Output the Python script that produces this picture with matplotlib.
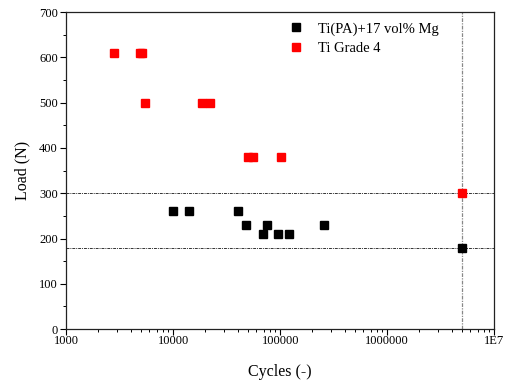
import matplotlib
matplotlib.use("Agg")
import matplotlib.pyplot as plt
from matplotlib.ticker import FixedLocator, FixedFormatter, LogLocator, NullFormatter

plt.rcParams['font.family'] = ['Liberation Serif', 'DejaVu Serif']

# Ti(PA)+17 vol% Mg
mg_cycles = [10000, 14200, 40000, 48000, 75000, 68500, 95000, 121000, 257000, 5000000]
mg_load = [260, 260, 260, 230, 230, 210, 210, 210, 230, 180]

# Ti Grade 4
ti_cycles = [2780, 4850, 5150, 5500, 18400, 22000, 50500, 56000, 101000, 5000000]
ti_load = [610, 610, 610, 500, 500, 500, 380, 380, 380, 300]

limit_loads = [300, 180]
runout = 5000000

xticks = [1000, 10000, 100000, 1000000, 10000000]
xticklabels = ['1000', '10000', '100000', '1000000', '1E7']

fig = plt.figure(figsize=(5.09, 3.80), dpi=100)
ax = fig.add_axes([0.130, 0.134, 0.841, 0.834])

ls = (0, (3, 1, 1, 1))
for y in limit_loads:
    ax.axhline(y, color='#333333', lw=0.7, linestyle=ls, zorder=1)
ax.axvline(runout, color='#888888', lw=0.9, linestyle=ls, zorder=1)

ax.plot(mg_cycles, mg_load, 's', color='black', ms=6, mec='black', label='Ti(PA)+17 vol% Mg', zorder=3)
ax.plot(ti_cycles, ti_load, 's', color='red', ms=6, mec='red', label='Ti Grade 4', zorder=3)

ax.set_xscale('log')
ax.set_xlim(1000, 10000000)
ax.set_ylim(0, 700)
ax.xaxis.set_major_locator(FixedLocator(xticks))
ax.xaxis.set_major_formatter(FixedFormatter(xticklabels))
ax.xaxis.set_minor_locator(LogLocator(base=10, subs=range(2, 10)))
ax.xaxis.set_minor_formatter(NullFormatter())
ax.set_yticks(range(0, 701, 100))
ax.set_yticks(range(50, 700, 100), minor=True)

ax.tick_params(which='major', direction='out', length=4, width=0.8, labelsize=9, pad=2)
ax.tick_params(axis='x', which='major', pad=0.5)
ax.tick_params(which='minor', direction='out', length=2.5, width=0.7)
for s in ax.spines.values():
    s.set_color('#222222')
    s.set_linewidth(0.9)

ax.set_xlabel('Cycles (-)', fontsize=11.5, labelpad=12)
ax.set_ylabel('Load (N)', fontsize=11.5, labelpad=6)

ax.legend(loc='upper right', frameon=False, fontsize=10.5, handlelength=0.8,
          handletextpad=1.1, labelspacing=0.45, bbox_to_anchor=(0.90, 1.01))

fig.savefig('out.png', dpi=100)
